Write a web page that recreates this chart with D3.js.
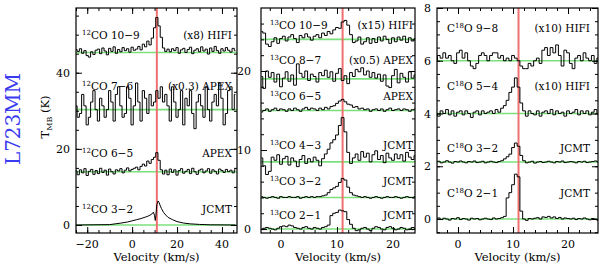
<!DOCTYPE html>
<html>
<head>
<meta charset="utf-8">
<script src="https://cdn.jsdelivr.net/npm/d3@7"></script>
<style>
  body { margin: 0; background: #fff; }
  text { font-family: "DejaVu Serif", serif; fill: #000; }
</style>
</head>
<body>
<svg id="chart" width="600" height="265"></svg>
<script>
// ---- data (T_MB in K, relative to each spectrum's baseline offset) ----
const vSysLine = 11;

// left panel: 12CO, channels of 1 km/s from -25 km/s
const co12_109 = [0.8, 0.3, 1.0, -0.2, 0.5, -0.8, -1.2, 0.2, -0.5, 0.6,
  0.9, -0.3, 1.2, 0.4, -0.6, 1.1, 0.3, 1.5, -0.2, 0.8,
  0.2, 1.3, 0.5, 1.0, 0.1, 1.4, 0.6, 0.9, 1.6, 0.7,
  2.2, 1.5, 3.0, 2.0, 3.8, 6.5, 9.2, 7.0, 4.0, 1.2,
  0.3, 0.9, 0.2, 1.0, 0.5, 1.3, -0.2, 0.7, 1.1, 0.0,
  0.8, 1.4, -0.3, 0.6, 1.0, 0.2, 1.5, 0.4, 0.9, -0.4,
  1.2, 0.3, 1.6, 0.5, -0.2, 1.0, 0.4, 1.3, 0.6, 0.1, 1.1, 0.5];
const co12_76 = [1, -2, -1, 4, 1, -4, -2, 2, 5, 0,
  -3, 3, 1, -2, 0, 5, 2, -3, 4, 6,
  1, -2, -1, 6, 3, -4, 1, 7, 2, -3,
  5, 3, -1, 4, 1, 2, 5, 3, 6, 2,
  4, 1, -3, 6, 2, -2, 0, 5, -4, 3,
  1, 5, -1, -5, 2, 4, 1, -2, 6, 0,
  -3, 2, 4, 1, 7, 3, -4, -1, 5, 6, 0, 4];
const co12_65 = [0.2, -0.8, 0.5, -0.3, 0.8, -1.0, 0.1, 0.6, -0.7, 0.3,
  -0.5, 0.9, -0.2, 0.4, -0.9, 0.7, 0.0, -0.6, 0.5, 0.2,
  0.8, -0.3, 0.4, 1.0, 0.2, 0.6, 0.9, 1.2, 0.5, 1.4,
  2.0, 1.5, 2.8, 2.2, 3.2, 3.8, 5.0, 3.0, 0.5, -0.6,
  0.4, -0.8, 0.7, -0.2, 0.5, -0.9, 0.3, 0.8, -0.4, 0.1,
  0.6, -0.5, 0.9, 0.0, -0.7, 0.4, 0.7, -0.3, 0.2, 0.8,
  -0.4, 0.5, 0.1, -0.6, 0.7, 0.3, -0.2, 0.6, 0.0, 0.4, -0.3, 0.5];
const co12_32_vel = [-25, -10, -5, -2, 0, 2, 4, 6, 7, 8, 9, 9.5, 10, 10.3, 10.6, 11, 11.6, 12, 12.5, 13, 14, 15, 16, 18, 20, 23, 26, 30, 35, 46];
const co12_32 = [0, 0.1, 0.5, 0.8, 1.1, 1.4, 1.7, 2.1, 2.3, 2.6, 3.0, 3.4, 2.4, 1.2, 2.6, 5.4, 6.3, 5.9, 5.1, 4.4, 3.3, 2.6, 2.0, 1.4, 0.9, 0.5, 0.3, 0.15, 0.05, 0];

// middle panel: 13CO, channels of 0.5 km/s from -3.5 km/s
const co13_109 = [1.0, 0.8, -0.6, -0.9, -0.3, 0.2, -0.5, 0.1, 0.4, -0.2,
  0.3, 0.6, 0.1, -0.4, 0.5, 0.2, 0.7, 0.3, -0.1, 0.4,
  0.6, 0.2, 0.8, 0.5, 1.0, 0.7, 1.2, 1.5, 1.4, 2.2,
  2.4, 1.8, 0.6, -0.4, -0.2, 0.3, -0.6, -0.3, 0.2, -0.5,
  0.1, -0.4, 0.3, -0.2, 0.4, 0.0, -0.5, 0.2, -0.3, 0.3,
  -0.1, 0.4, -0.4, 0.2, -0.2, 0.1];
const co13_87 = [0.3, -1.2, 1.0, 0.2, 0.8, -0.4, 0.6, -1.0, 0.1, 0.9,
  -0.3, 0.5, -0.8, 1.9, 0.7, 0.2, 1.0, -0.2, 0.6, 0.3,
  -0.4, 0.8, 0.4, 1.1, 0.2, 0.9, -0.3, 0.7, 1.3, -0.2,
  0.4, -0.6, 0.8, 0.3, 1.2, 0.9, 1.4, 0.5, 1.0, 0.2,
  0.8, 0.1, 0.6, -0.3, 0.5, -0.9, -1.1, 0.4, 1.2, -0.5,
  0.7, 0.2, -0.4, 0.9, 0.1, 0.5];
const co13_65 = [-0.2, 0.0, 0.2, -0.1, 0.1, 0.3, 0.0, 0.2, 0.1, -0.1,
  0.2, 0.0, 0.3, 0.1, -0.1, 0.2, 0.4, 0.1, 0.3, 0.2,
  0.0, 0.3, 0.1, 0.4, 0.2, 0.5, 0.6, 0.9, 1.2, 1.4,
  1.1, 0.8, 0.7, 0.4, 0.5, 0.2, 0.3, 0.1, 0.2, -0.1,
  0.1, 0.2, 0.0, 0.2, -0.1, 0.1, 0.3, 0.0, 0.1, 0.2,
  0.0, 0.2, 0.1, -0.1, 0.1, 0.2];
const co13_43 = [0.5, -0.5, -1.6, -1.2, 0.6, 0.2, 0.9, -0.3, 0.4, 0.7,
  -0.4, 0.5, 0.1, -0.6, 0.3, 0.8, -0.2, 0.4, 0.0, 0.6,
  0.2, -0.5, 0.4, 1.0, 1.6, 2.4, 2.8, 3.4, 4.6, 5.6,
  3.8, 1.2, -0.2, 0.5, 1.0, 0.2, 1.3, 0.6, 1.1, 0.0,
  0.9, 1.4, 0.3, 0.8, -0.1, 1.1, 0.5, 0.2, 1.0, 0.4,
  0.9, 0.1, 1.2, 0.6, 0.3, 0.8];
const co13_32 = [0.1, 0.0, -0.1, 0.0, 0.1, 0.0, -0.1, 0.1, 0.0, 0.0,
  0.1, 0.0, 0.0, 0.1, -0.1, 0.0, 0.1, 0.0, 0.1, 0.0,
  0.1, 0.1, 0.2, 0.3, 0.6, 1.0, 1.2, 1.4, 1.9, 2.4,
  2.2, 1.3, 0.6, 0.3, 0.2, 0.1, 0.0, 0.1, 0.0, -0.1,
  0.0, 0.1, 0.0, -0.1, 0.0, 0.1, 0.0, 0.0, 0.1, 0.0,
  -0.1, 0.0, 0.1, 0.0, 0.0, 0.1];
const co13_21 = [0.0, 0.1, 0.2, 0.1, 0.0, -0.1, 0.1, 0.3, 0.4, 0.3,
  0.5, 0.4, 0.2, 0.1, 0.0, 0.2, 0.3, 0.1, 0.0, 0.2,
  0.1, 0.0, 0.2, 0.3, 0.5, 1.7, 2.0, 2.1, 2.4, 2.3,
  2.2, 1.2, 0.6, 0.1, -0.2, -0.1, 0.1, 0.2, 0.0, -0.2,
  0.1, 0.3, 0.2, 0.0, -0.1, 0.2, 0.3, 0.1, -0.1, 0.0,
  0.2, 0.1, -0.1, 0.0, 0.2, 0.1];

// right panel: C18O, channels of 0.5 km/s from -4 km/s
const c18o_98 = [0.0, 0.2, 0.1, 0.3, 0.1, 0.2, 0.0, -0.1, 0.3, 0.4,
  0.1, 0.3, 0.0, -0.2, -0.3, -0.1, 0.2, 0.3, 0.2, 0.0,
  0.2, 0.3, 0.3, 0.1, 0.2, 0.0, 0.1, 0.0, 0.2, 0.1,
  0.0, -0.2, -0.3, -0.3, -0.1, -0.2, 0.0, 0.1, -0.1, 0.4,
  0.5, 0.2, 0.5, 0.3, 0.6, 0.2, -0.2, 0.4, 0.3, -0.1,
  -0.3, 0.1, 0.2, 0.0, 0.3, 0.1, 0.0, 0.2, -0.1, 0.1];
const c18o_54 = [0.0, -0.1, 0.1, 0.0, 0.15, -0.05, 0.1, -0.1, 0.05, 0.1,
  -0.05, 0.1, 0.0, -0.15, 0.05, 0.1, -0.05, 0.1, 0.0, 0.05,
  0.1, 0.0, 0.15, 0.05, 0.2, 0.3, 0.5, 0.8, 1.0, 1.35,
  1.0, 0.4, 0.1, -0.1, 0.1, 0.0, -0.05, 0.1, -0.1, 0.05,
  0.1, 0.0, 0.15, -0.05, 0.1, 0.0, 0.05, -0.1, 0.1, 0.0,
  0.05, 0.15, -0.05, 0.1, 0.0, 0.1, -0.05, 0.05, 0.15, 0.0];
const c18o_32 = [0.0, 0.03, -0.03, 0.0, 0.05, 0.0, -0.04, 0.02, 0.0, 0.04,
  0.0, -0.03, 0.02, 0.0, 0.04, -0.02, 0.0, 0.03, -0.03, 0.0,
  0.03, 0.0, -0.02, 0.02, 0.05, 0.12, 0.2, 0.3, 0.55, 0.72,
  0.6, 0.25, 0.05, -0.03, 0.0, 0.03, -0.04, 0.0, 0.02, -0.02,
  0.0, 0.03, 0.0, -0.03, 0.02, 0.0, 0.04, -0.02, 0.0, 0.02,
  0.0, -0.03, 0.02, 0.0, 0.03, -0.02, 0.0, 0.02, 0.04, 0.0];
const c18o_21 = [0.0, 0.04, -0.02, 0.03, 0.0, -0.04, 0.02, 0.0, 0.05, -0.02,
  0.02, 0.0, -0.04, 0.03, 0.0, 0.02, -0.03, 0.0, 0.03, 0.0,
  -0.02, 0.04, 0.0, 0.02, 0.05, 0.1, 0.8, 1.0, 1.3, 1.7,
  1.6, 0.3, 0.0, -0.05, 0.02, 0.0, 0.03, 0.05, 0.0, 0.08,
  0.06, 0.1, 0.04, 0.08, 0.02, 0.06, 0.0, 0.04, 0.02, 0.0,
  0.03, -0.02, 0.02, 0.0, 0.04, 0.0, -0.03, 0.02, 0.0, -0.05];

// tick values
const leftXTicks = [-20, 0, 20, 40], leftYTicks = [0, 20, 40];
const midXTicks = [0, 10, 20], midYTicks = [0, 10, 20];
const rightXTicks = [0, 10, 20], rightYTicks = [0, 2, 4, 6, 8];

// ---- layout ----
const panels = [
  { x0: 76, x1: 237, y0: 8, y1: 233, xDom: [-25, 46.7], yDom: [-2.1, 57],
    xTicks: leftXTicks, xMinor: 5, yTicks: leftYTicks, yMinor: 5, gap: 6, labX: 82, noteX: 232,
    spectra: [
      { iso: "12", mol: "CO", tr: "10−9", note: "(x8) HIFI", v0: -25, dv: 1, t: co12_109, base: 45.3, ly: 39 },
      { iso: "12", mol: "CO", tr: "7−6", note: "(x0.3) APEX", v0: -25, dv: 1, t: co12_76, base: 30.3, ly: 90 },
      { iso: "12", mol: "CO", tr: "6−5", note: "APEX", v0: -25, dv: 1, t: co12_65, base: 14, ly: 157 },
      { iso: "12", mol: "CO", tr: "3−2", note: "JCMT", vel: co12_32_vel, t: co12_32, base: 0, ly: 213 }
    ] },
  { x0: 261, x1: 415, y0: 8, y1: 233, xDom: [-3.57, 23.93], yDom: [-0.5, 27.97],
    xTicks: midXTicks, xMinor: 2, yTicks: midYTicks, yMinor: 2, gap: 10, labX: 270, noteX: 413,
    spectra: [
      { iso: "13", mol: "CO", tr: "10−9", note: "(x15) HIFI", v0: -3.5, dv: 0.5, t: co13_109, base: 24, ly: 29 },
      { iso: "13", mol: "CO", tr: "8−7", note: "(x0.5) APEX", v0: -3.5, dv: 0.5, t: co13_87, base: 19, ly: 64 },
      { iso: "13", mol: "CO", tr: "6−5", note: "APEX", v0: -3.5, dv: 0.5, t: co13_65, base: 15, ly: 100 },
      { iso: "13", mol: "CO", tr: "4−3", note: "JCMT", v0: -3.5, dv: 0.5, t: co13_43, base: 8.5, ly: 149 },
      { iso: "13", mol: "CO", tr: "3−2", note: "JCMT", v0: -3.5, dv: 0.5, t: co13_32, base: 4, ly: 185 },
      { iso: "13", mol: "CO", tr: "2−1", note: "JCMT", v0: -3.5, dv: 0.5, t: co13_21, base: 0, ly: 219 }
    ] },
  { x0: 437, x1: 598, y0: 8, y1: 233, xDom: [-3.82, 25.45], yDom: [-0.53, 8],
    xTicks: rightXTicks, xMinor: 2, yTicks: rightYTicks, yMinor: 0.5, gap: 6, labX: 447, noteX: 590,
    spectra: [
      { pre: "C", iso: "18", mol: "O", tr: "9−8", note: "(x10) HIFI", v0: -4, dv: 0.5, t: c18o_98, base: 6, ly: 32 },
      { pre: "C", iso: "18", mol: "O", tr: "5−4", note: "(x10) HIFI", v0: -4, dv: 0.5, t: c18o_54, base: 4, ly: 90 },
      { pre: "C", iso: "18", mol: "O", tr: "3−2", note: "JCMT", v0: -4, dv: 0.5, t: c18o_32, base: 2.16, ly: 152 },
      { pre: "C", iso: "18", mol: "O", tr: "2−1", note: "JCMT", v0: -4, dv: 0.5, t: c18o_21, base: 0, ly: 197 }
    ] }
];

const svg = d3.select("#chart");

function minorTicks(dom, step) {
  let out = [];
  for (let v = Math.ceil(dom[0] / step) * step; v <= dom[1] + 1e-9; v += step) out.push(+v.toFixed(3));
  return out;
}

panels.forEach((p, pi) => {
  const x = d3.scaleLinear().domain(p.xDom).range([p.x0, p.x1]);
  const y = d3.scaleLinear().domain(p.yDom).range([p.y1, p.y0]);
  const g = svg.append("g");

  const clipId = "clip" + pi;
  svg.append("clipPath").attr("id", clipId).append("rect")
    .attr("x", p.x0).attr("y", p.y0).attr("width", p.x1 - p.x0).attr("height", p.y1 - p.y0);

  const plot = g.append("g").attr("clip-path", `url(#${clipId})`);

  // green baselines
  p.spectra.forEach(s => {
    plot.append("line")
      .attr("x1", p.x0).attr("x2", p.x1)
      .attr("y1", y(s.base)).attr("y2", y(s.base))
      .attr("stroke", "#7be07b").attr("stroke-width", 1.6);
  });

  // red line at systemic velocity
  plot.append("line")
    .attr("x1", x(vSysLine)).attr("x2", x(vSysLine))
    .attr("y1", p.y0).attr("y2", p.y1)
    .attr("stroke", "#f07070").attr("stroke-width", 2);

  // spectra
  p.spectra.forEach(s => {
    let pts;
    if (s.vel) pts = s.vel.map((v, i) => [v, s.t[i]]);
    else pts = s.t.map((t, i) => [s.v0 + i * s.dv, t]);
    const line = d3.line()
      .x(d => x(d[0]))
      .y(d => y(d[1] + s.base))
      .curve(s.vel ? d3.curveLinear : d3.curveStep);
    plot.append("path").datum(pts)
      .attr("d", line)
      .attr("fill", "none")
      .attr("stroke", "#000")
      .attr("stroke-width", 1);
  });

  // ticks (inside, all four sides)
  const xMin = minorTicks(p.xDom, p.xMinor), yMin = minorTicks(p.yDom, p.yMinor);
  const axes = [
    [d3.axisBottom(x).tickValues(xMin).tickSize(-3), `translate(0,${p.y1})`],
    [d3.axisBottom(x).tickValues(p.xTicks).tickSize(-6), `translate(0,${p.y1})`],
    [d3.axisTop(x).tickValues(xMin).tickSize(-3), `translate(0,${p.y0})`],
    [d3.axisTop(x).tickValues(p.xTicks).tickSize(-6), `translate(0,${p.y0})`],
    [d3.axisLeft(y).tickValues(yMin).tickSize(-3), `translate(${p.x0},0)`],
    [d3.axisLeft(y).tickValues(p.yTicks).tickSize(-6), `translate(${p.x0},0)`],
    [d3.axisRight(y).tickValues(yMin).tickSize(-3), `translate(${p.x1},0)`],
    [d3.axisRight(y).tickValues(p.yTicks).tickSize(-6), `translate(${p.x1},0)`]
  ];
  axes.forEach(([ax, tr]) => {
    const a = g.append("g").attr("transform", tr).call(ax.tickFormat(""));
    a.select(".domain").remove();
    a.selectAll("line").attr("stroke", "#000").attr("stroke-width", 1);
  });

  // tick labels
  g.selectAll(".xl").data(p.xTicks).join("text")
    .attr("x", d => x(d)).attr("y", 248)
    .attr("text-anchor", "middle").attr("font-size", 11)
    .text(d => d < 0 ? "−" + Math.abs(d) : d);
  g.selectAll(".yl").data(p.yTicks).join("text")
    .attr("x", p.x0 - p.gap).attr("y", d => y(d) + 4)
    .attr("text-anchor", "end").attr("font-size", 11)
    .text(d => d);

  // frame
  g.append("rect")
    .attr("x", p.x0).attr("y", p.y0)
    .attr("width", p.x1 - p.x0).attr("height", p.y1 - p.y0)
    .attr("fill", "none").attr("stroke", "#000").attr("stroke-width", 1.2);

  // x axis title
  g.append("text")
    .attr("x", (p.x0 + p.x1) / 2).attr("y", 261)
    .attr("text-anchor", "middle").attr("font-size", 11.5)
    .text("Velocity (km/s)");

  // line labels
  p.spectra.forEach(s => {
    const t = g.append("text").attr("x", p.labX).attr("y", s.ly).attr("font-size", 10.5);
    if (s.pre) t.append("tspan").text(s.pre);
    t.append("tspan").attr("font-size", 7).attr("dy", -4.5).text(s.iso);
    t.append("tspan").attr("dy", 4.5).text(s.mol + " " + s.tr);
    g.append("text").attr("x", p.noteX).attr("y", s.ly)
      .attr("text-anchor", "end").attr("font-size", 10.5)
      .text(s.note);
  });
});

// y axis title
const yt = svg.append("text")
  .attr("transform", "translate(49,117) rotate(-90)")
  .attr("text-anchor", "middle").attr("font-size", 11.5);
yt.append("tspan").text("T");
yt.append("tspan").attr("font-size", 8).attr("dy", 3).text("MB");
yt.append("tspan").attr("dy", -3).text(" (K)");

// source name
svg.append("text")
  .attr("transform", "translate(20,119) rotate(-90)")
  .attr("text-anchor", "middle")
  .attr("font-family", "Liberation Serif, serif")
  .attr("font-size", 20)
  .attr("textLength", 92)
  .style("fill", "#3a3af0")
  .text("L723MM");
</script>
</body>
</html>
